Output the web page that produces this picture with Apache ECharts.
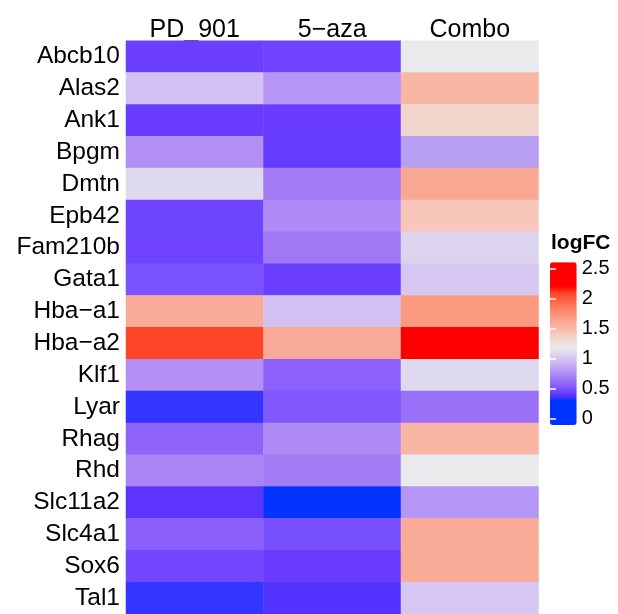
<!DOCTYPE html>
<html>
<head>
<meta charset="utf-8">
<script src="https://cdn.jsdelivr.net/npm/echarts@6/dist/echarts.min.js"></script>
<style>
html,body{margin:0;padding:0;background:#fff;}
#chart{width:618px;height:614px;}
</style>
</head>
<body>
<div id="chart"></div>
<script>
// ---- data ----
const genes = ['Abcb10','Alas2','Ank1','Bpgm','Dmtn','Epb42','Fam210b','Gata1','Hba\u2212a1','Hba\u2212a2','Klf1','Lyar','Rhag','Rhd','Slc11a2','Slc4a1','Sox6','Tal1'];
const conditions = ['PD_901','5\u2212aza','Combo'];
const pd901 = [0.43,0.99,0.42,0.76,1.09,0.45,0.44,0.50,1.59,2.09,0.76,0.34,0.57,0.71,0.38,0.55,0.46,0.34];
const aza   = [0.44,0.79,0.42,0.41,0.68,0.74,0.66,0.43,0.99,1.59,0.56,0.52,0.74,0.68,0.30,0.49,0.42,0.37];
const combo = [1.17,1.52,1.33,0.82,1.61,1.42,1.07,1.01,1.70,2.20,1.09,0.63,1.52,1.17,0.79,1.59,1.59,1.01];
const legendTicks = [0,0.5,1,1.5,2,2.5];
const legendMin = -0.108, legendMax = 2.6;

// ---- colour scale (style) ----
const cmapVals   = [0.30,0.34,0.38,0.42,0.45,0.50,0.55,0.63,0.68,0.74,0.79,0.82,0.90,0.99,1.07,1.17,1.33,1.42,1.52,1.60,1.70,1.90,2.09,2.20];
const cmapColors = ['#0033FF','#3235FF','#5E33FF','#6A3CFF','#6F44FF','#7B52FF','#8A5FFB','#9870F8','#A47CF5','#AE8BF5','#B595F5','#B89EF2','#C8B2F2','#D3C1F3','#DCD4EE','#EAEAEC','#F2D5CD','#F8C6BA','#F9B6A3','#F9AA96','#FB9A7F','#FD7253','#FF4528','#FF0000'];
function hex2rgb(h){return [parseInt(h.substr(1,2),16),parseInt(h.substr(3,2),16),parseInt(h.substr(5,2),16)];}
function colorAt(v){
  if(v<=cmapVals[0]) return cmapColors[0];
  if(v>=cmapVals[cmapVals.length-1]) return cmapColors[cmapColors.length-1];
  for(let i=0;i<cmapVals.length-1;i++){
    if(v>=cmapVals[i]&&v<=cmapVals[i+1]){
      const t=(v-cmapVals[i])/(cmapVals[i+1]-cmapVals[i]);
      const a=hex2rgb(cmapColors[i]), b=hex2rgb(cmapColors[i+1]);
      const c=a.map((x,k)=>Math.round(x+(b[k]-x)*t));
      return 'rgb('+c.join(',')+')';
    }
  }
}
const N=272, palette=[];
for(let i=0;i<N;i++){palette.push(colorAt(legendMin+(legendMax-legendMin)*i/(N-1)));}

const cols=[pd901,aza,combo];
const heatData=[];
cols.forEach((arr,ci)=>arr.forEach((v,ri)=>heatData.push([ci,ri,v])));

const FONT='"Liberation Sans", Arial, Helvetica, sans-serif';
const chart=echarts.init(document.getElementById('chart'),null,{renderer:'canvas'});
chart.setOption({
  animation:false,
  backgroundColor:'#fff',
  textStyle:{fontFamily:FONT,color:'#000'},
  title:{text:'logFC',left:551,top:233,padding:0,textStyle:{fontFamily:FONT,fontSize:21,fontWeight:'bold',color:'#000'}},
  grid:[
    {left:126,top:40.7,width:412.5,height:577.8},
    {left:550,top:262.3,width:26.7,height:162.7}
  ],
  xAxis:[
    {type:'category',gridIndex:0,position:'top',data:conditions,axisLine:{show:false},axisTick:{show:false},splitLine:{show:false},
     axisLabel:{fontSize:25,color:'#000',fontFamily:FONT,margin:-2,interval:0}},
    {type:'value',gridIndex:1,min:0,max:1,show:false}
  ],
  yAxis:[
    {type:'category',gridIndex:0,data:genes,inverse:true,axisLine:{show:false},axisTick:{show:false},splitLine:{show:false},
     axisLabel:{fontSize:24.5,color:'#000',fontFamily:FONT,margin:6,interval:0,hideOverlap:false}},
    {type:'value',gridIndex:1,position:'right',min:legendMin,max:legendMax,z:10,
     axisLine:{show:false},splitLine:{show:false},
     axisTick:{show:true,inside:true,length:6,customValues:legendTicks,lineStyle:{color:'#fff',width:1.5}},
     axisLabel:{show:true,customValues:legendTicks,fontSize:20,color:'#000',fontFamily:FONT,margin:5,formatter:v=>String(v)}},
    {type:'value',gridIndex:1,position:'left',min:legendMin,max:legendMax,z:10,
     axisLine:{show:false},splitLine:{show:false},
     axisTick:{show:true,inside:true,length:6,customValues:legendTicks,lineStyle:{color:'#fff',width:1.5}},
     axisLabel:{show:false}}
  ],
  visualMap:{type:'continuous',seriesIndex:0,dimension:2,min:legendMin,max:legendMax,calculable:false,hoverLink:false,
    orient:'vertical',left:550,top:262.3,itemWidth:26.7,itemHeight:162.7,padding:0,text:null,
    inRange:{color:palette}},
  series:[
    {type:'heatmap',xAxisIndex:0,yAxisIndex:0,data:heatData,itemStyle:{borderWidth:0},emphasis:{disabled:true}},
    {type:'scatter',xAxisIndex:1,yAxisIndex:1,data:[],silent:true}
  ]
});
</script>
</body>
</html>
